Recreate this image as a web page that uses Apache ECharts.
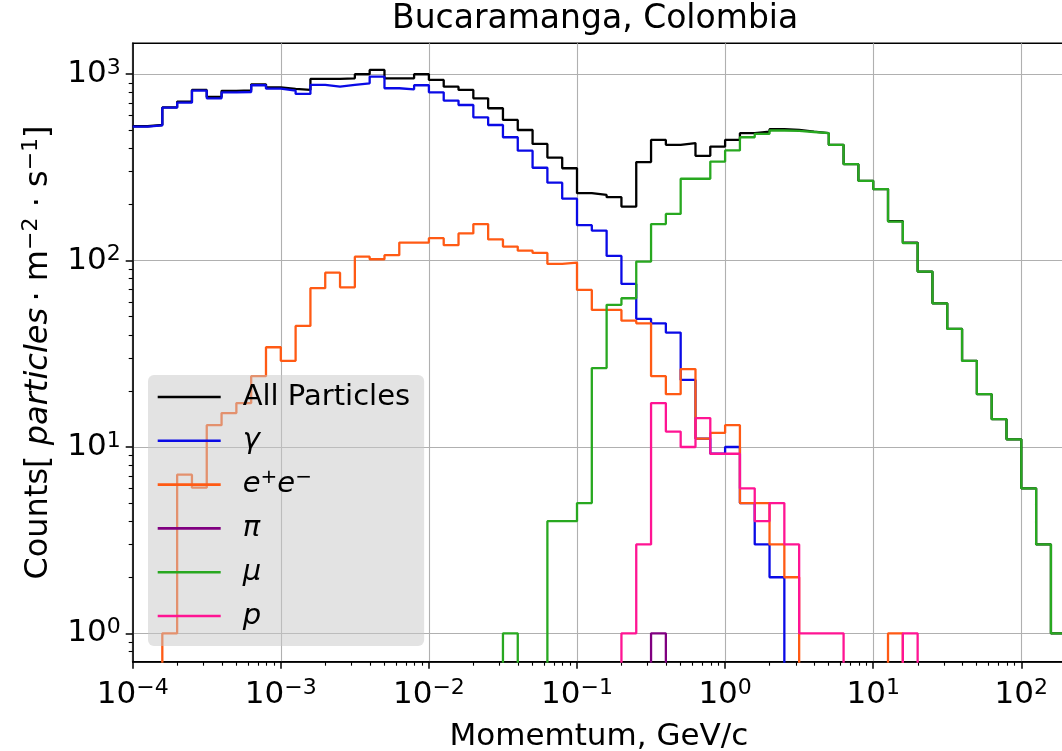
<!DOCTYPE html>
<html>
<head>
<meta charset="utf-8">
<script src="https://cdn.jsdelivr.net/npm/echarts@6/dist/echarts.min.js"></script>
<style>html,body{margin:0;padding:0;background:#fff;}#c{width:1062px;height:751px;}</style>
</head>
<body>
<div id="c"></div>
<script>
// ---- data (histogram, 0.1-decade log bins starting at 10^-4) ----
const binLogStart = -4;
const binLogWidth = 0.1;
const seriesNames = ['All Particles', 'γ', 'e+e-', 'π', 'μ', 'p'];
const allParticles = [526,534,664,712,824,756,815,820,883,851, 834,824,944,944,951,1000,1055,951,951,1000, 932,858,824,743,657,569,502,423,357,313, 230,225,219,195,338,444,418,427,365,409, 444,483,492,507,503,492,483,418,329,268, 242,163,125,87.3,59,43,29,19.2,14.1,11, 6,3,1];
const gamma = [524,532,662,704,817,743,800,803,873,837, 817,784,876,858,876,894,971,841,830,873, 800,722,684,587,534,459,389,315,262,215, 155,145,106,75,48.7,46.1,41.1,22.9,11.1,9.2, 10,5,3,2,0,0,0,0,0,0, 0,0,0,0,0,0,0,0,0,0, 0,0,0];
const electrons = [0,0,1,7.1,6.05,13.1,15.2,17.2,24,34.3, 29,44.6,71.1,86.2,71.9,105,101.7,107,125,125, 132,121,140,157,130,119,113,110,96,97.6, 69.6,54.4,54.4,47.6,46.1,24,19.2,26.2,11.1,11.9, 13.1,5,5,3,2,0,0,0,0,0, 0,1,0,0,0,0,0,0,0,0, 0,0,0];
const pions = [0,0,0,0,0,0,0,0,0,0, 0,0,0,0,0,0,0,0,0,0, 0,0,0,0,0,0,0,0,0,0, 0,0,0,0,0,1,0,0,0,0, 0,0,0,0,0,0,0,0,0,0, 0,0,0,0,0,0,0,0,0,0, 0,0,0];
const muons = [0,0,0,0,0,0,0,0,0,0, 0,0,0,0,0,0,0,0,0,0, 0,0,0,0,0,1,0,0,4,4, 5,26.5,57.9,62.8,98.8,157,178,275,275,340, 390,459,479,499,497,490,483,418,329,268, 242,162,124,87.3,59,43,29,19.2,14.1,11, 6,3,1];
const protons = [0,0,0,0,0,0,0,0,0,0, 0,0,0,0,0,0,0,0,0,0, 0,0,0,0,0,0,0,0,0,0, 0,0,0,1,3,17.2,12.1,10,14.3,9.2, 9.2,6,4,5,3,1,1,1,0,0, 0,0,1,0,0,0,0,0,0,0, 0,0,0];
const xTickExps = [-4,-3,-2,-1,0,1,2];
const yTickExps = [0,1,2,3];

const colors = ['#000000','#0a0ae6','#ff5a14','#800080','#28a820','#ff1493'];
const F = 'DejaVu Sans';
const FLOOR = 1e-3; // empty bins drop below the axis (log of 0)

const nBins = allParticles.length;
const edges = [];
for (let k = 0; k <= nBins; k++) edges.push(Math.pow(10, binLogStart + k * binLogWidth));

function stepData(vals) {
  const f = v => (v > 0 ? v : FLOOR);
  const pts = [];
  vals.forEach((v, k) => pts.push([edges[k], f(v)]));
  pts.push([edges[vals.length], f(vals[vals.length - 1])]);
  pts.push([edges[vals.length], FLOOR]);
  return pts;
}

function supLabel(v) {
  const e = Math.round(Math.log10(v));
  return '{b|10}{s|' + (e < 0 ? '\u2212' + (-e) : e) + '}';
}
const labelRich = {
  b: {fontSize: 31, fontFamily: F, color: '#000', lineHeight: 34},
  s: {fontSize: 22, fontFamily: F, color: '#000', lineHeight: 22, verticalAlign: 'top'}
};

const xMin = 1e-4, xMax = Math.pow(10, 2.295);
const yMin = Math.pow(10, -0.152), yMax = Math.pow(10, 3.166);
const xTicks = xTickExps.map(e => Math.pow(10, e));
const yTicks = yTickExps.map(e => Math.pow(10, e));
const xMinor = [], yMinor = [];
for (let d = -4; d <= 2; d++) for (let m = 2; m <= 9; m++) { const v = m * Math.pow(10, d); if (v > xMin && v < xMax) xMinor.push(v); }
for (let d = -1; d <= 3; d++) for (let m = 2; m <= 9; m++) { const v = m * Math.pow(10, d); if (v > yMin && v < yMax) yMinor.push(v); }

const legendText = {
  'All Particles': 'All Particles',
  'γ': '{i|γ}',
  'e+e-': '{i|e}{p|+}{i|e}{p|\u2212}',
  'π': '{i|π}',
  'μ': '{i|μ}',
  'p': '{i|p}'
};

const seriesData = [allParticles, gamma, electrons, pions, muons, protons];

const chart = echarts.init(document.getElementById('c'), null, {renderer: 'canvas'});
chart.setOption({
  animation: false,
  backgroundColor: '#ffffff',
  title: {
    text: 'Bucaramanga, Colombia',
    left: 392, top: 3, padding: 0,
    textStyle: {fontFamily: F, fontSize: 33, fontWeight: 'normal', color: '#000'}
  },
  grid: {
    left: 132.7, top: 43.3, right: -3, bottom: 89.3,
    outerBoundsMode: 'none', containLabel: false,
    show: true, borderColor: '#000', borderWidth: 1.5, backgroundColor: 'transparent'
  },
  legend: {
    orient: 'vertical', left: 148, top: 375,
    padding: [5, 14, 13, 9.7],
    itemGap: 9.8, itemWidth: 63, itemHeight: 2.6, icon: 'rect',
    backgroundColor: 'rgba(200,200,200,0.5)', borderRadius: 6,
    data: seriesNames,
    formatter: n => legendText[n],
    textStyle: {
      fontFamily: F, fontSize: 29, color: '#000', lineHeight: 34, padding: [0, 0, 0, 17],
      rich: {
        i: {fontFamily: F, fontSize: 29, fontStyle: 'italic', color: '#000', lineHeight: 34},
        p: {fontFamily: F, fontSize: 20, color: '#000', lineHeight: 20, verticalAlign: 'top'}
      }
    }
  },
  xAxis: [{
    type: 'log', logBase: 10, min: xMin, max: xMax,
    name: 'Momemtum, GeV/c', nameLocation: 'middle', nameGap: 60,
    nameTextStyle: {fontFamily: F, fontSize: 31, color: '#000'},
    axisLine: {show: true, lineStyle: {color: '#000', width: 1.5}},
    axisTick: {show: true, length: 7, lineStyle: {color: '#000', width: 1.5}, customValues: xTicks},
    axisLabel: {show: true, margin: 16, customValues: xTicks, formatter: supLabel, rich: labelRich},
    splitLine: {show: true, lineStyle: {color: '#b0b0b0', width: 1.1}},
    minorTick: {show: false}
  }, {
    type: 'log', logBase: 10, min: xMin, max: xMax, gridIndex: 0, position: 'bottom',
    axisLine: {show: false},
    axisTick: {show: true, length: 4, lineStyle: {color: '#000', width: 1.1}, customValues: xMinor},
    axisLabel: {show: false}, splitLine: {show: false}
  }],
  yAxis: [{
    type: 'log', logBase: 10, min: yMin, max: yMax,
    name: 'Counts[ {i|particles}\u2009\u00b7 m{s|\u22122} \u00b7 s{s|\u22121}]',
    nameLocation: 'middle', nameGap: 77, nameRotate: 90,
    nameTextStyle: {
      fontFamily: F, fontSize: 32, color: '#000', lineHeight: 35,
      rich: {
        i: {fontFamily: F, fontSize: 32, fontStyle: 'italic', color: '#000', lineHeight: 35},
        s: {fontFamily: F, fontSize: 22, color: '#000', lineHeight: 22, verticalAlign: 'top'}
      }
    },
    axisLine: {show: true, lineStyle: {color: '#000', width: 1.5}},
    axisTick: {show: true, length: 7, lineStyle: {color: '#000', width: 1.5}, customValues: yTicks},
    axisLabel: {show: true, margin: 12, customValues: yTicks, formatter: supLabel, rich: labelRich},
    splitLine: {show: true, lineStyle: {color: '#b0b0b0', width: 1.1}}
  }, {
    type: 'log', logBase: 10, min: yMin, max: yMax, gridIndex: 0, position: 'left',
    axisLine: {show: false},
    axisTick: {show: true, length: 4, lineStyle: {color: '#000', width: 1.1}, customValues: yMinor},
    axisLabel: {show: false}, splitLine: {show: false}
  }],
  series: seriesNames.map((n, i) => ({
    name: n, type: 'line', step: 'end', xAxisIndex: 0, yAxisIndex: 0,
    data: stepData(seriesData[i]),
    showSymbol: false, symbol: 'none', clip: true,
    color: colors[i],
    lineStyle: {color: colors[i], width: 2.3},
    emphasis: {disabled: true}
  }))
});
</script>
</body>
</html>
